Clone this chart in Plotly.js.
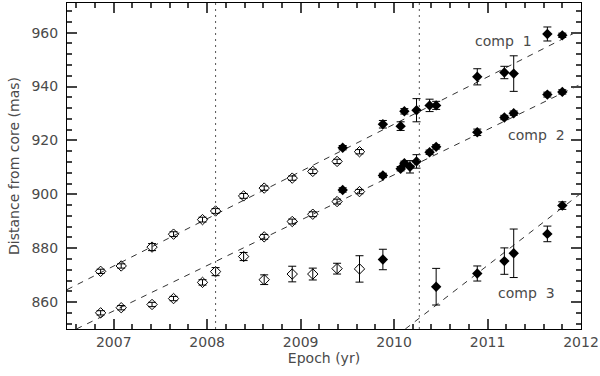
<!DOCTYPE html>
<html>
<head>
<meta charset="utf-8">
<script src="https://cdn.plot.ly/plotly-3.0.1.min.js"></script>
<style>html,body{margin:0;padding:0;background:#fff;}#chart{width:600px;height:376px;}</style>
</head>
<body>
<div id="chart"></div>
<script>
// comp 1
const c1OpenX = [2006.86, 2007.08, 2007.41, 2007.64, 2007.95, 2008.09, 2008.39, 2008.61, 2008.91, 2009.13, 2009.39, 2009.63];
const c1OpenY = [871.4, 873.4, 880.4, 885.2, 890.6, 893.8, 899.4, 902.3, 906.0, 908.5, 912.2, 915.8];
const c1OpenE = [0.8, 0.8, 1.3, 0.9, 0.9, 0.9, 0.9, 0.8, 0.8, 0.8, 0.8, 0.8];
const c1FillX = [2009.45, 2009.88, 2010.07, 2010.11, 2010.24, 2010.38, 2010.45, 2010.89, 2011.18, 2011.28, 2011.64, 2011.80];
const c1FillY = [917.3, 926.0, 925.3, 930.8, 931.2, 933.0, 933.0, 943.6, 945.2, 944.8, 959.5, 959.0];
const c1FillE = [0.8, 1.4, 1.6, 1.0, 4.3, 2.3, 1.5, 3.0, 2.3, 6.6, 2.6, 0.8];
// comp 2
const c2OpenX = [2006.86, 2007.08, 2007.41, 2007.64, 2007.95, 2008.09, 2008.39, 2008.61, 2008.91, 2009.13, 2009.39, 2009.63];
const c2OpenY = [856.0, 857.9, 859.1, 861.3, 867.3, 871.3, 876.9, 884.2, 889.9, 892.6, 897.3, 901.0];
const c2OpenE = [0.8, 0.8, 0.8, 0.8, 1.0, 1.5, 1.5, 0.9, 0.9, 0.9, 0.9, 0.8];
const c2FillX = [2009.45, 2009.88, 2010.07, 2010.11, 2010.17, 2010.24, 2010.38, 2010.45, 2010.89, 2011.18, 2011.28, 2011.64, 2011.80];
const c2FillY = [901.6, 907.0, 909.5, 911.5, 910.2, 912.2, 915.6, 917.6, 923.0, 928.5, 930.1, 937.0, 938.0];
const c2FillE = [0.8, 0.8, 0.8, 0.8, 2.3, 2.5, 0.8, 0.8, 1.2, 0.8, 0.8, 0.9, 0.8];
// comp 3
const c3OpenX = [2008.61, 2008.91, 2009.13, 2009.39, 2009.63];
const c3OpenY = [868.3, 870.4, 870.4, 872.4, 872.3];
const c3OpenE = [1.8, 2.9, 2.2, 2.0, 4.9];
const c3FillX = [2009.88, 2010.45, 2010.89, 2011.18, 2011.28, 2011.64, 2011.80];
const c3FillY = [875.8, 865.7, 870.6, 875.2, 878.1, 885.3, 895.8];
const c3FillE = [3.8, 6.8, 2.8, 4.9, 9.0, 2.9, 1.4];
// linear fits
const fit1X = [2006.5, 2012.0], fit1Y = [864.6, 961.1];
const fit2X = [2006.6, 2012.0], fit2Y = [850.0, 940.9];
const fit3X = [2010.12, 2012.0], fit3Y = [850.0, 900.4];
// epochs of dotted markers
const dottedEpochs = [2008.09, 2010.27];
const compLabels = ['comp  1', 'comp  2', 'comp  3'];

const txt = '#4a4a4a';
const fontFam = 'DejaVu Sans, sans-serif';

function pts(x, y, e, filled) {
  return {
    type: 'scatter', mode: 'markers', x: x, y: y,
    error_y: {type: 'data', array: e, visible: true, color: '#000', thickness: 1, width: 4},
    marker: filled ? {symbol: 'diamond', size: 8, color: '#000'} :
                     {symbol: 'diamond-open', size: 8, color: '#000', line: {width: 1, color: '#000'}},
    hoverinfo: 'skip', showlegend: false
  };
}
function fit(x, y) {
  return {type: 'scatter', mode: 'lines', x: x, y: y,
    line: {color: '#333', width: 1, dash: '6px,6px'}, hoverinfo: 'skip', showlegend: false};
}

const traces = [
  fit(fit1X, fit1Y), fit(fit2X, fit2Y), fit(fit3X, fit3Y),
  pts(c1OpenX, c1OpenY, c1OpenE, false), pts(c1FillX, c1FillY, c1FillE, true),
  pts(c2OpenX, c2OpenY, c2OpenE, false), pts(c2FillX, c2FillY, c2FillE, true),
  pts(c3OpenX, c3OpenY, c3OpenE, false), pts(c3FillX, c3FillY, c3FillE, true)
];

const shapes = dottedEpochs.map(ep => ({
  type: 'line', xref: 'x', yref: 'paper', x0: ep, x1: ep, y0: 0, y1: 1,
  line: {color: '#555', width: 1, dash: '2px,4px'}
}));

const annotations = [
  {x: 2011.17, y: 957, text: compLabels[0]},
  {x: 2011.52, y: 922, text: compLabels[1]},
  {x: 2011.42, y: 863.4, text: compLabels[2]}
].map(a => Object.assign({xref: 'x', yref: 'y', showarrow: false, xanchor: 'center', yanchor: 'middle',
  font: {family: fontFam, size: 14, color: txt}}, a));

const tickCol = '#444';

const layout = {
  width: 600, height: 376,
  margin: {l: 67, r: 19, t: 3, b: 47},
  paper_bgcolor: '#fff', plot_bgcolor: 'rgba(0,0,0,0)',
  font: {family: fontFam, size: 14, color: txt},
  showlegend: false,
  xaxis: {
    range: [2006.5, 2012], tickmode: 'linear', tick0: 2007, dtick: 1,
    ticks: 'inside', ticklen: 10, tickwidth: 2, tickcolor: tickCol,
    minor: {dtick: 0.2, ticks: 'inside', ticklen: 5, tickwidth: 2, tickcolor: tickCol},
    showline: true, linecolor: '#000', linewidth: 1, mirror: 'allticks',
    showgrid: false, zeroline: false, layer: 'above traces',
    title: {text: 'Epoch (yr)', font: {family: fontFam, size: 14, color: txt}, standoff: 0}
  },
  yaxis: {
    range: [850, 971], tickmode: 'linear', tick0: 860, dtick: 20,
    ticks: 'inside', ticklen: 10, tickwidth: 2, tickcolor: tickCol,
    minor: {dtick: 4, ticks: 'inside', ticklen: 5, tickwidth: 2, tickcolor: tickCol},
    showline: true, linecolor: '#000', linewidth: 1, mirror: 'allticks',
    showgrid: false, zeroline: false, layer: 'above traces', ticklabelstandoff: 5,
    title: {text: 'Distance from core (mas)', font: {family: fontFam, size: 14, color: txt}, standoff: 8}
  },
  shapes: shapes,
  annotations: annotations
};

Plotly.newPlot('chart', traces, layout, {displayModeBar: false});
</script>
</body>
</html>
